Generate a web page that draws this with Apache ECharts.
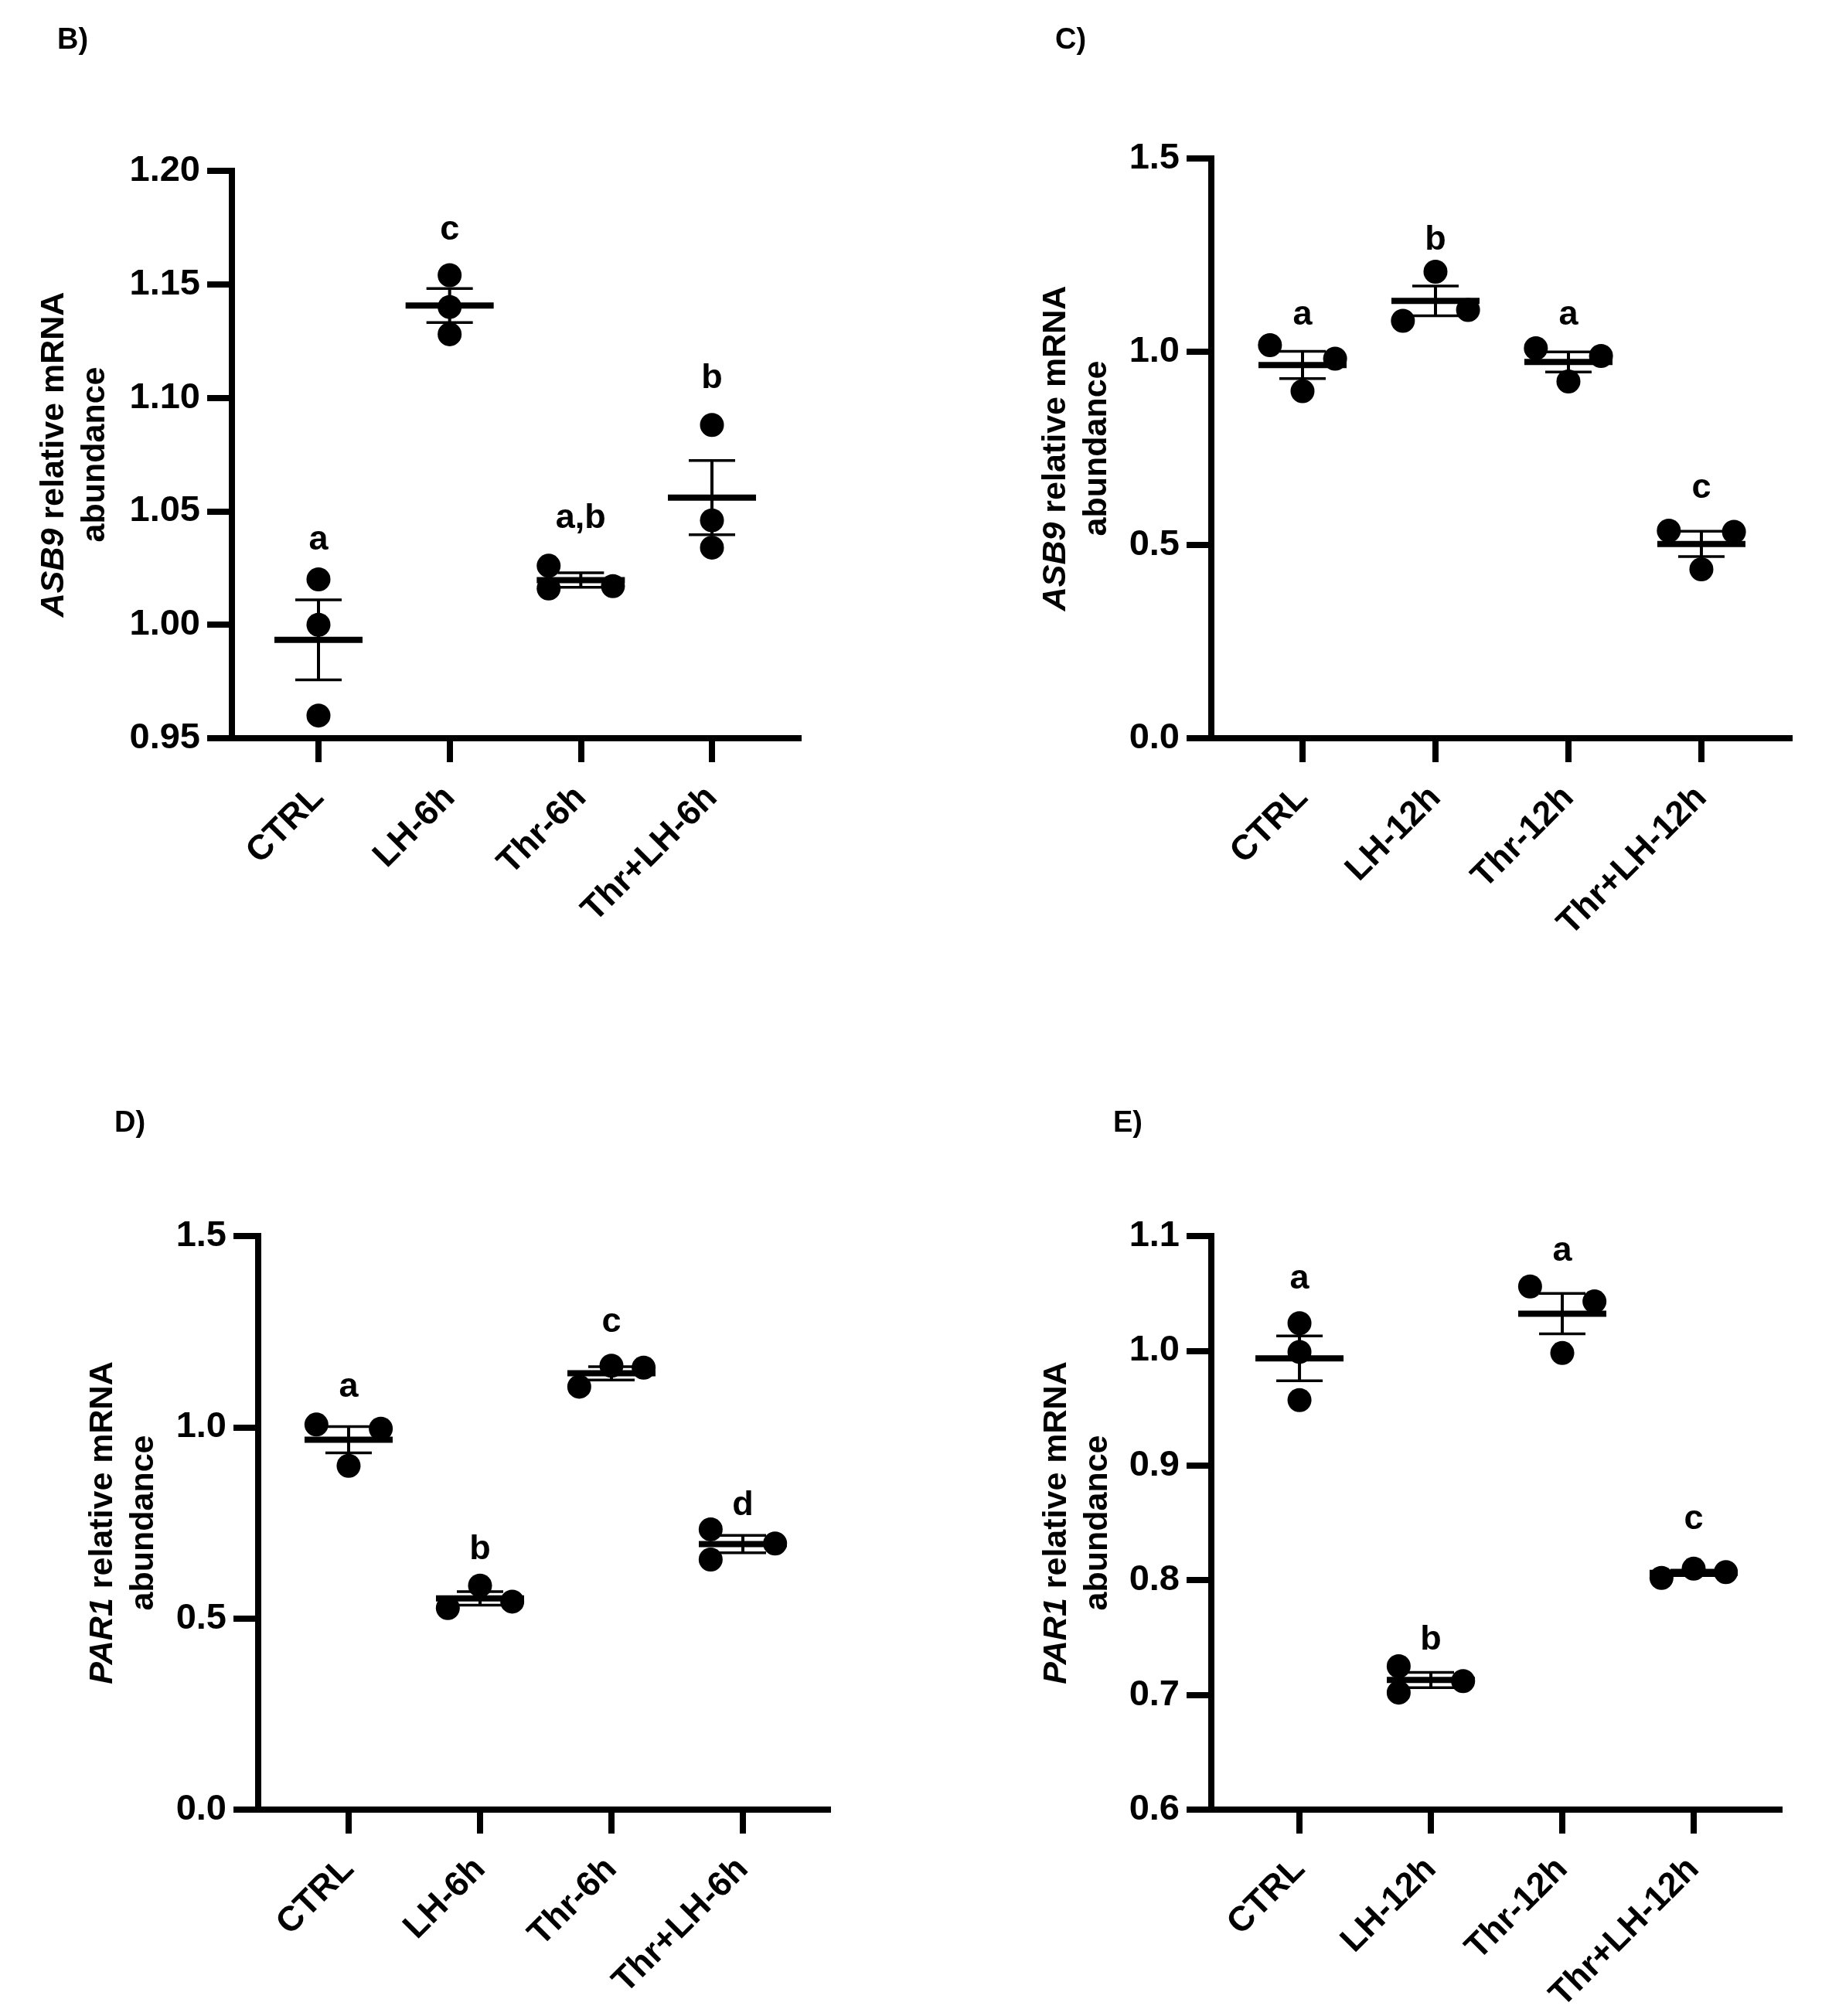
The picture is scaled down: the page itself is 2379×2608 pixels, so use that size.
<!DOCTYPE html>
<html><head><meta charset="utf-8">
<script src="https://cdn.jsdelivr.net/npm/echarts@6/dist/echarts.min.js"></script>
<style>html,body{margin:0;padding:0;background:#fff}#c{width:2379px;height:2608px}</style>
</head><body><div id="c"></div>
<script>
// ---------- data ----------
const catsB = ['CTRL', 'LH-6h', 'Thr-6h', 'Thr+LH-6h'];
const valsB = [[1.020, 1.000, 0.960], [1.154, 1.140, 1.128], [1.026, 1.016, 1.017], [1.088, 1.046, 1.034]];
const colsB = [[0, 0, 0], [0, 0, 0], [-1, -1, 1], [0, 0, 0]];
const lettersB = ['a', 'c', 'a,b', 'b'];
const letterYB = [1.036, 1.1725, 1.0455, 1.107];

const catsC = ['CTRL', 'LH-12h', 'Thr-12h', 'Thr+LH-12h'];
const valsC = [[1.017, 0.898, 0.982], [1.080, 1.207, 1.108], [1.009, 0.923, 0.989], [0.537, 0.437, 0.534]];
const colsC = [[-1, 0, 1], [-1, 0, 1], [-1, 0, 1], [-1, 0, 1]];
const lettersC = ['a', 'b', 'a', 'c'];
const letterYC = [1.086, 1.281, 1.086, 0.638];

const catsD = ['CTRL', 'LH-6h', 'Thr-6h', 'Thr+LH-6h'];
const valsD = [[1.007, 0.899, 0.996], [0.527, 0.586, 0.544], [1.106, 1.161, 1.156], [0.733, 0.654, 0.696]];
const colsD = [[-1, 0, 1], [-1, 0, 1], [-1, 0, 1], [-1, -1, 1]];
const lettersD = ['a', 'b', 'c', 'd'];
const letterYD = [1.097, 0.672, 1.266, 0.787];

const catsE = ['CTRL', 'LH-12h', 'Thr-12h', 'Thr+LH-12h'];
const valsE = [[1.024, 0.999, 0.957], [0.725, 0.702, 0.712], [1.056, 0.998, 1.043], [0.802, 0.810, 0.807]];
const colsE = [[0, 0, 0], [-1, -1, 1], [-1, 0, 1], [-1, 0, 1]];
const lettersE = ['a', 'b', 'a', 'c'];
const letterYE = [1.060, 0.745, 1.084, 0.850];

// ---------- layout & style ----------
const FONT = "'Liberation Sans', Arial, Helvetica, sans-serif";
const SPREAD = 0.245;
const panels = [
  {tag: 'B)', cats: catsB, vals: valsB, cols: colsB, letters: lettersB, ly: letterYB,
   gene: 'ASB9', grid: {left: 300, top: 221, right: 1033, bottom: 955}, xmin: -0.66, xmax: 3.66,
   ymin: 0.95, ymax: 1.20, step: 0.05, dec: 2, gap: 150, tagPos: {left: 74, top: 34}},
  {tag: 'C)', cats: catsC, vals: valsC, cols: colsC, letters: lettersC, ly: letterYC,
   gene: 'ASB9', grid: {left: 1567, top: 205, right: 2315, bottom: 955}, xmin: -0.686, xmax: 3.663,
   ymin: 0, ymax: 1.5, step: 0.5, dec: 1, gap: 121, tagPos: {left: 1365, top: 34}},
  {tag: 'D)', cats: catsD, vals: valsD, cols: colsD, letters: lettersD, ly: letterYD,
   gene: 'PAR1', grid: {left: 334, top: 1599, right: 1071, bottom: 2341}, xmin: -0.688, xmax: 3.647,
   ymin: 0, ymax: 1.5, step: 0.5, dec: 1, gap: 121, tagPos: {left: 148, top: 1435}},
  {tag: 'E)', cats: catsE, vals: valsE, cols: colsE, letters: lettersE, ly: letterYE,
   gene: 'PAR1', grid: {left: 1567, top: 1599, right: 2302, bottom: 2341}, xmin: -0.671, xmax: 3.653,
   ymin: 0.6, ymax: 1.1, step: 0.1, dec: 1, gap: 120, tagPos: {left: 1440, top: 1435}}
];

function meanSem(arr) {
  const n = arr.length;
  const m = arr.reduce((a, b) => a + b, 0) / n;
  const sd = Math.sqrt(arr.reduce((a, b) => a + (b - m) * (b - m), 0) / (n - 1));
  return [m, sd / Math.sqrt(n)];
}

const option = {
  backgroundColor: '#fff', animation: false,
  title: [], grid: [], xAxis: [], yAxis: [], series: []
};

panels.forEach((p, k) => {
  option.title.push({
    text: p.tag, left: p.tagPos.left, top: p.tagPos.top, padding: 0,
    textStyle: {fontFamily: FONT, fontSize: 38, fontWeight: 'bold', color: '#000', lineHeight: 38}
  });
  option.grid.push({
    left: p.grid.left, top: p.grid.top,
    width: p.grid.right - p.grid.left, height: p.grid.bottom - p.grid.top
  });
  option.xAxis.push({
    type: 'value', gridIndex: k, min: p.xmin, max: p.xmax,
    axisLine: {show: true, onZero: false, lineStyle: {color: '#000', width: 8, cap: 'square'}},
    axisTick: {show: true, length: 31, customValues: [0, 1, 2, 3], lineStyle: {color: '#000', width: 8}},
    axisLabel: {
      customValues: [0, 1, 2, 3], formatter: v => p.cats[Math.round(v)],
      rotate: 45, margin: 70, fontSize: 45, fontWeight: 'bold', color: '#000', fontFamily: FONT
    },
    splitLine: {show: false}
  });
  option.yAxis.push({
    type: 'value', gridIndex: k, min: p.ymin, max: p.ymax, interval: p.step,
    axisLine: {show: true, onZero: false, lineStyle: {color: '#000', width: 8, cap: 'square'}},
    axisTick: {show: true, length: 32, lineStyle: {color: '#000', width: 8}},
    axisLabel: {
      formatter: v => v.toFixed(p.dec), margin: 41,
      fontSize: 47, fontWeight: 'bold', color: '#000', fontFamily: FONT
    },
    splitLine: {show: false},
    name: '{i|' + p.gene + '}{n| relative mRNA}\n{n|abundance}',
    nameLocation: 'middle', nameRotate: 90, nameGap: p.gap,
    nameTextStyle: {
      color: '#000', fontFamily: FONT, fontSize: 43, fontWeight: 'bold', lineHeight: 53,
      rich: {
        i: {fontFamily: FONT, fontSize: 43, fontWeight: 'bold', fontStyle: 'italic', lineHeight: 53, color: '#000'},
        n: {fontFamily: FONT, fontSize: 43, fontWeight: 'bold', lineHeight: 53, color: '#000'}
      }
    }
  });

  const pts = [];
  p.vals.forEach((g, i) => g.forEach((v, j) => pts.push([i + p.cols[i][j] * SPREAD, v])));
  option.series.push({
    type: 'scatter', xAxisIndex: k, yAxisIndex: k, data: pts,
    symbol: 'circle', symbolSize: 31, itemStyle: {color: '#000', opacity: 1}, silent: true, z: 2
  });

  const stats = p.vals.map((g, i) => { const ms = meanSem(g); return [i, ms[0], ms[1]]; });
  option.series.push({
    type: 'custom', xAxisIndex: k, yAxisIndex: k, data: stats, silent: true, z: 3,
    encode: {x: 0, y: 1},
    renderItem: (params, api) => {
      const x = api.value(0), m = api.value(1), s = api.value(2);
      const pm = api.coord([x, m]), pt = api.coord([x, m + s]), pb = api.coord([x, m - s]);
      const st = w => ({stroke: '#000', lineWidth: w, fill: null});
      return {type: 'group', children: [
        {type: 'line', shape: {x1: pm[0] - 57, y1: pm[1], x2: pm[0] + 57, y2: pm[1]}, style: st(8)},
        {type: 'line', shape: {x1: pt[0], y1: pt[1], x2: pb[0], y2: pb[1]}, style: st(4)},
        {type: 'line', shape: {x1: pt[0] - 30, y1: pt[1], x2: pt[0] + 30, y2: pt[1]}, style: st(3.5)},
        {type: 'line', shape: {x1: pb[0] - 30, y1: pb[1], x2: pb[0] + 30, y2: pb[1]}, style: st(3.5)}
      ]};
    }
  });

  option.series.push({
    type: 'scatter', xAxisIndex: k, yAxisIndex: k, silent: true, z: 4,
    data: p.letters.map((t, i) => [i, p.ly[i], t]),
    symbol: 'circle', symbolSize: 1, itemStyle: {color: 'rgba(0,0,0,0)', opacity: 1},
    label: {
      show: true, position: 'inside', offset: [0, -4], formatter: q => q.value[2],
      fontFamily: FONT, fontSize: 45, fontWeight: 'bold', color: '#000', opacity: 1
    }
  });
});

const chart = echarts.init(document.getElementById('c'), null, {renderer: 'canvas', width: 2379, height: 2608});
chart.setOption(option);
</script>
</body></html>
